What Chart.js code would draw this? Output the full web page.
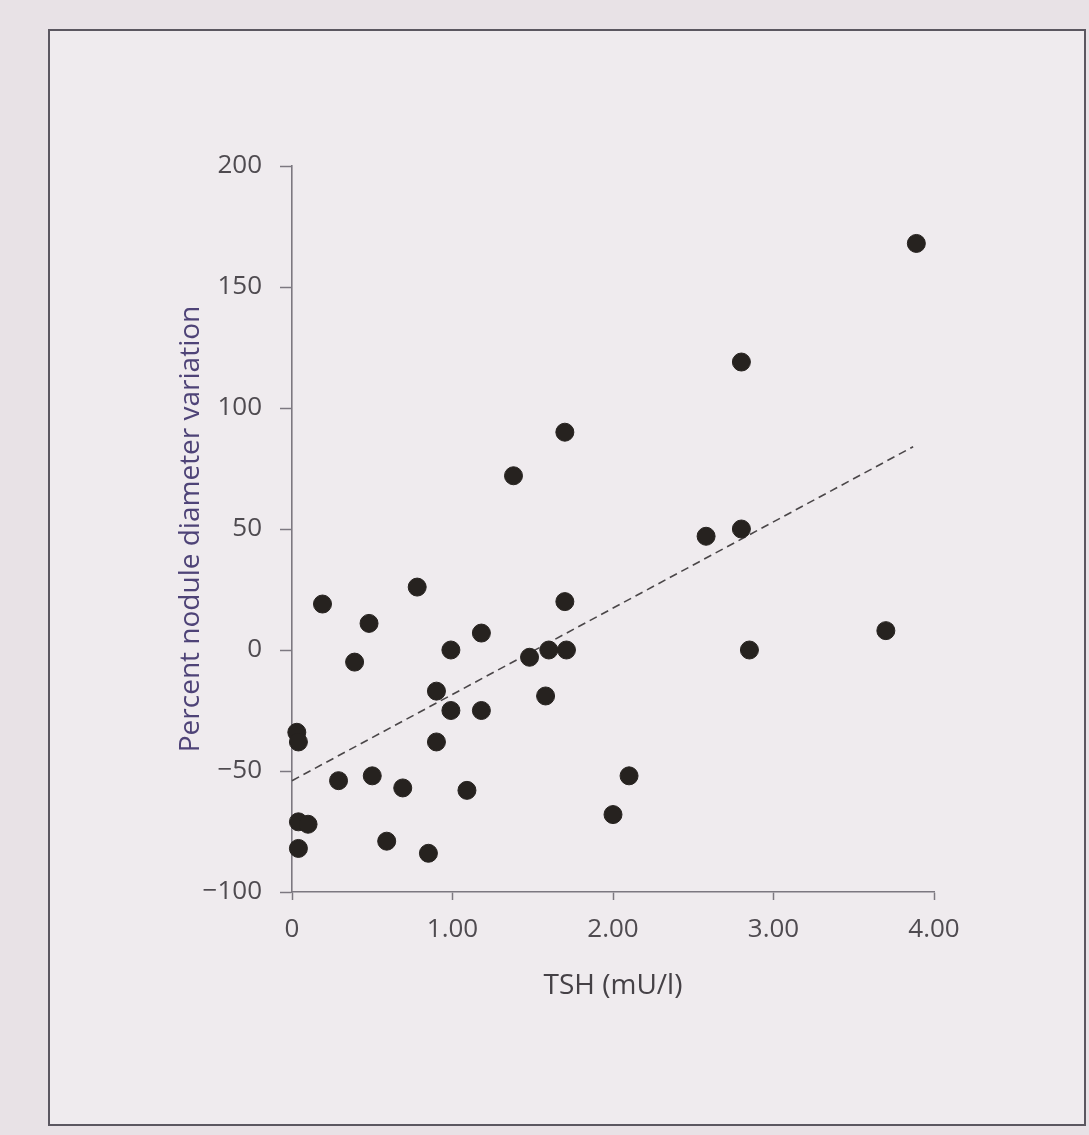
<!DOCTYPE html>
<html>
<head>
<meta charset="utf-8">
<script src="https://cdn.jsdelivr.net/npm/chart.js@4.4.0/dist/chart.umd.min.js"></script>
<style>
    html, body { margin: 0; padding: 0; background: #e8e2e6; }
    #page { position: absolute; left: 0; top: 0; width: 1089px; height: 1135px; overflow: hidden; }
    #frame { position: absolute; left: 48px; top: 29px; width: 1034px; height: 1093px; border: 2px solid #5b5760; background: #efebee; }
    #myChart { position: absolute; left: 0; top: 0; }
</style>
</head>
<body>
<div id="page">
    <div id="frame"></div>
    <canvas id="myChart" width="1089" height="1135"></canvas>
</div>
<script>
// TSH (mU/l) per nodule
var tshValues = [
    0.19, 0.78, 1.70, 0.48, 1.18, 0.39, 0.99, 1.48, 1.60, 1.71,
    0.90, 1.58, 0.99, 1.18, 0.03, 0.04, 0.90, 0.29, 0.50, 0.69,
    1.09, 0.04, 0.10, 0.04, 0.59, 0.85, 1.38, 1.70, 3.89, 2.80,
    2.58, 2.80, 3.70, 2.85, 2.10, 2.00
];
// percent nodule diameter variation
var variationValues = [
    19, 26, 20, 11, 7, -5, 0, -3, 0, 0,
    -17, -19, -25, -25, -34, -38, -38, -54, -52, -57,
    -58, -71, -72, -82, -79, -84, 72, 90, 168, 119,
    47, 50, 8, 0, -52, -68
];
// regression line ends
var trendX = [0, 3.87];
var trendY = [-54, 84];

var xTickValues = [0, 1, 2, 3, 4];
var xTickLabels = ["0", "1.00", "2.00", "3.00", "4.00"];
var yTickValues = [-100, -50, 0, 50, 100, 150, 200];
var yTickLabels = ["\u2212100", "\u221250", "0", "50", "100", "150", "200"];

var colors = {
    dot: "#26221f",
    trend: "#4a4648",
    axis: "#7c7880",
    tickText: "#4f4b50",
    yTitle: "#4e4377",
    xTitle: "#454146",
};

function toPoints(xs, ys) {
    var out = [];
    for (var i = 0; i < xs.length; i++) {
        out.push({ x: xs[i], y: ys[i] });
    }
    return out;
}

var ctx = document.getElementById("myChart").getContext("2d");
var myChart = new Chart(ctx, {
    type: "scatter",
    data: {
        datasets: [
            {
                label: "Nodules",
                data: toPoints(tshValues, variationValues),
                backgroundColor: colors.dot,
                borderColor: colors.dot,
                borderWidth: 1,
                pointRadius: 9,
                pointHoverRadius: 9,
                clip: false,
            },
            {
                type: "line",
                label: "Trend",
                data: toPoints(trendX, trendY),
                borderColor: colors.trend,
                borderWidth: 1.6,
                borderDash: [8, 5],
                pointRadius: 0,
                fill: false,
                clip: false,
            },
        ],
    },
    options: {
        responsive: false,
        animation: false,
        devicePixelRatio: 1,
        layout: {
            padding: { left: 150, top: 166, right: 155, bottom: 120 },
        },
        plugins: {
            legend: { display: false },
            tooltip: { enabled: false },
        },
        scales: {
            x: {
                type: "linear",
                min: 0,
                max: 4,
                afterFit: function (scale) { scale.height = 123; },
                afterBuildTicks: function (scale) {
                    scale.ticks = xTickValues.map(function (v) { return { value: v }; });
                },
                ticks: {
                    padding: 14,
                    color: colors.tickText,
                    font: { family: "'Open Sans'", size: 26 },
                    maxRotation: 0,
                    callback: function (v) {
                        var i = xTickValues.indexOf(v);
                        return i >= 0 ? xTickLabels[i] : "";
                    },
                },
                grid: {
                    drawOnChartArea: false,
                    drawTicks: true,
                    tickLength: 8,
                    tickColor: colors.axis,
                    tickWidth: 1.5,
                },
                border: { display: true, color: colors.axis, width: 1.6 },
                title: {
                    display: true,
                    text: "TSH (mU/l)",
                    color: colors.xTitle,
                    font: { family: "'Open Sans'", size: 28 },
                    padding: { top: 0, bottom: 12 },
                },
            },
            y: {
                type: "linear",
                min: -100,
                max: 200,
                afterFit: function (scale) { scale.width = 142; },
                afterBuildTicks: function (scale) {
                    scale.ticks = yTickValues.map(function (v) { return { value: v }; });
                },
                ticks: {
                    padding: 18,
                    color: colors.tickText,
                    font: { family: "'Open Sans'", size: 26 },
                    callback: function (v) {
                        var i = yTickValues.indexOf(v);
                        return i >= 0 ? yTickLabels[i] : "";
                    },
                },
                grid: {
                    drawOnChartArea: false,
                    drawTicks: true,
                    tickLength: 12,
                    tickColor: colors.axis,
                    tickWidth: 1.5,
                },
                border: { display: true, color: colors.axis, width: 1.6 },
                title: {
                    display: true,
                    text: "Percent nodule diameter variation",
                    color: colors.yTitle,
                    font: { family: "'Open Sans'", size: 28 },
                    padding: { top: 24, bottom: 0 },
                },
            },
        },
    },
});
</script>
</body>
</html>
